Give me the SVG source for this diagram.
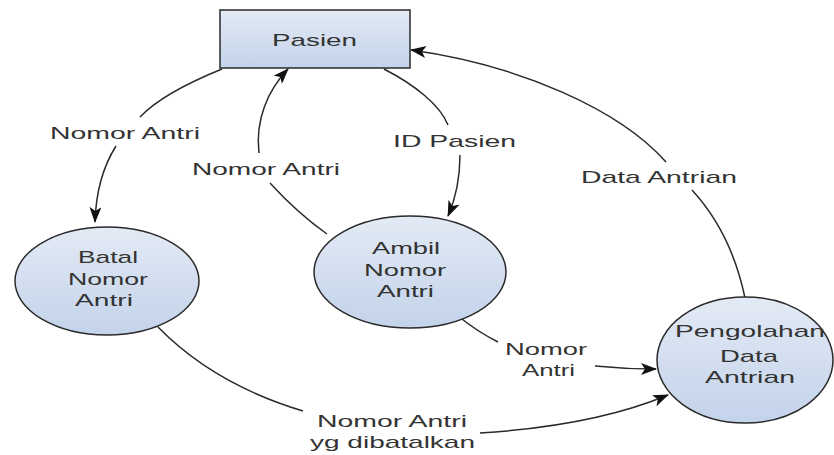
<svg xmlns="http://www.w3.org/2000/svg" width="834" height="455" viewBox="0 0 834 455">
<defs>
<linearGradient id="g" x1="0" y1="0" x2="0" y2="1">
<stop offset="0" stop-color="#e3eaf5"/>
<stop offset="1" stop-color="#c3d3ea"/>
</linearGradient>
<marker id="arr" markerWidth="16" markerHeight="12" refX="15" refY="6" orient="auto" markerUnits="userSpaceOnUse">
<path d="M0,0 L16,6 L0,12 L4,6 Z" fill="#111"/>
</marker>
<style>
.node{fill:url(#g);stroke:#2a2a2a;stroke-width:1.5}
.t{font-family:"Liberation Sans",Arial,sans-serif;font-size:17px;fill:#333}
.c{fill:none;stroke:#2a2a2a;stroke-width:1.5}
.a{marker-end:url(#arr)}
</style>
</defs>
<rect width="834" height="455" fill="#fff"/>
<g id="connectors">
<path class="c" d="M222,69 C190,82 158,98 140,117"/>
<path class="c a" d="M116,146 C104,165 96,190 95,222"/>
<path class="c" d="M270,183 C290,205 310,222 327,234"/>
<path class="c a" d="M259,153 C255,120 268,90 288,69"/>
<path class="c" d="M384,69 C415,85 440,105 448,125"/>
<path class="c a" d="M460,155 C460,180 455,200 448,216"/>
<path class="c" d="M458,316 Q478,332 498,342"/>
<path class="c a" d="M595,366 Q625,369 656,369"/>
<path class="c" d="M158,327 C200,370 250,395 303,411"/>
<path class="c a" d="M480,433 C560,428 620,415 668,395"/>
<path class="c" d="M745,298 C735,250 715,215 692,190"/>
<path class="c a" d="M666,162 C620,110 520,65 411,50"/>
<text class="t" x="50" y="139" textLength="150" lengthAdjust="spacingAndGlyphs">Nomor Antri</text>
<text class="t" x="192" y="175" textLength="148" lengthAdjust="spacingAndGlyphs">Nomor Antri</text>
<text class="t" x="393" y="147" textLength="123" lengthAdjust="spacingAndGlyphs">ID Pasien</text>
<text class="t" x="581" y="183" textLength="156" lengthAdjust="spacingAndGlyphs">Data Antrian</text>
<text class="t" x="505" y="355" textLength="82" lengthAdjust="spacingAndGlyphs">Nomor</text>
<text class="t" x="522" y="376" textLength="53" lengthAdjust="spacingAndGlyphs">Antri</text>
<text class="t" x="317" y="427" textLength="150" lengthAdjust="spacingAndGlyphs">Nomor Antri</text>
<text class="t" x="310" y="448" textLength="165" lengthAdjust="spacingAndGlyphs">yg dibatalkan</text>
</g>
<g id="pasien">
<rect class="node" x="220" y="10" width="190" height="58"/>
<text class="t" x="272" y="46" textLength="85" lengthAdjust="spacingAndGlyphs">Pasien</text>
</g>
<g id="batal">
<ellipse class="node" cx="107" cy="281" rx="92" ry="54"/>
<text class="t" x="78" y="263" textLength="60" lengthAdjust="spacingAndGlyphs">Batal</text>
<text class="t" x="68" y="285" textLength="80" lengthAdjust="spacingAndGlyphs">Nomor</text>
<text class="t" x="75" y="306" textLength="58" lengthAdjust="spacingAndGlyphs">Antri</text>
</g>
<g id="ambil">
<ellipse class="node" cx="410" cy="272" rx="96" ry="56"/>
<text class="t" x="372" y="254" textLength="68" lengthAdjust="spacingAndGlyphs">Ambil</text>
<text class="t" x="364" y="276" textLength="82" lengthAdjust="spacingAndGlyphs">Nomor</text>
<text class="t" x="377" y="297" textLength="57" lengthAdjust="spacingAndGlyphs">Antri</text>
</g>
<g id="pengolahan">
<ellipse class="node" cx="745" cy="360" rx="88" ry="63"/>
<text class="t" x="675" y="337" textLength="150" lengthAdjust="spacingAndGlyphs">Pengolahan</text>
<text class="t" x="720" y="362" textLength="58" lengthAdjust="spacingAndGlyphs">Data</text>
<text class="t" x="705" y="383" textLength="90" lengthAdjust="spacingAndGlyphs">Antrian</text>
</g>
</svg>
